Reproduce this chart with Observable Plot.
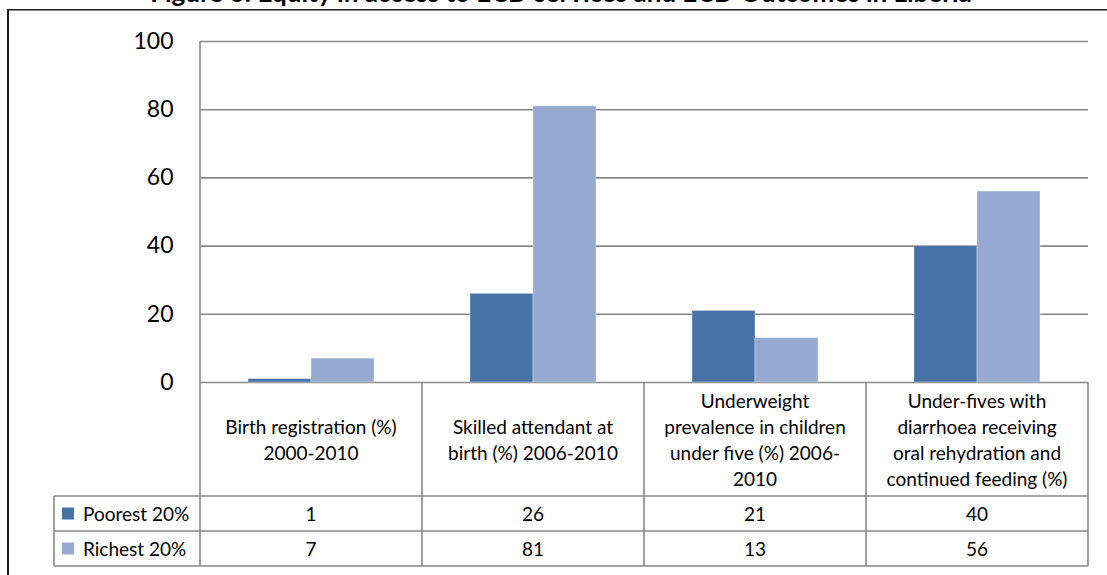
<!DOCTYPE html>
<html>
<head>
<meta charset="utf-8">
<script src="https://cdn.jsdelivr.net/npm/d3@7"></script>
<script src="https://cdn.jsdelivr.net/npm/@observablehq/plot@0.6"></script>
<style>
  html, body { margin: 0; padding: 0; background: #fff; }
  #wrap { position: relative; width: 1107px; height: 575px; overflow: hidden; background: #fff; }
  #title {
    position: absolute; left: 0; top: -21px; width: 1122px; text-align: center;
    font-family: Lato, sans-serif; font-weight: bold; font-size: 26px; line-height: 26px; color: #000;
    white-space: nowrap;
  }
  #frame {
    position: absolute; left: 7px; top: 9px; width: 1200px; height: 700px;
    border-left: 2px solid #1e1e1e; border-top: 1px solid #1e1e1e;
    box-shadow: inset 0 1px 0 #8f8f8f;
  }
  #chart { position: absolute; left: 0; top: 0; }
</style>
</head>
<body>
<div id="wrap">
  <div id="title">Figure 6: Equity in access to ECD services and ECD Outcomes in Liberia</div>
  <div id="frame"></div>
  <div id="chart"></div>
</div>
<script>
// Indicators (one group of bars each) and their wrapped labels for the data table
const categories = [
  "Birth registration (%) 2000-2010",
  "Skilled attendant at birth (%) 2006-2010",
  "Underweight prevalence in children under five (%) 2006-2010",
  "Under-fives with diarrhoea receiving oral rehydration and continued feeding (%)"
];
const categoryLines = [
  ["Birth registration (%)", "2000-2010"],
  ["Skilled attendant at", "birth (%) 2006-2010"],
  ["Underweight", "prevalence in children", "under five (%) 2006-", "2010"],
  ["Under-fives with", "diarrhoea receiving", "oral rehydration and", "continued feeding (%)"]
];

// Wealth quintile series
const seriesNames = ["Poorest 20%", "Richest 20%"];
const poorest = [1, 26, 21, 40];
const richest = [7, 81, 13, 56];
const seriesColors = ["#4672a7", "#95a9d1"];

// Value axis ticks
const yTicks = [0, 20, 40, 60, 80, 100];

const seriesValues = [poorest, richest];
const rows = seriesNames.flatMap((s, si) =>
  categories.map((c, ci) => ({series: s, category: c, value: seriesValues[si][ci]}))
);

const gridColor = "#888888";
const fontFamily = "Lato, 'Open Sans', sans-serif";

const chart = Plot.plot({
  width: 1107,
  height: 575,
  marginLeft: 200,
  marginRight: 19,
  marginTop: 41,
  marginBottom: 193,
  style: {fontFamily, fontSize: "23px", color: "#000", background: "transparent", overflow: "visible"},
  fx: {domain: categories, padding: 0, axis: null},
  x: {domain: seriesNames, paddingInner: 0, paddingOuter: 0.75, axis: null},
  y: {domain: [0, 100]},
  color: {domain: seriesNames, range: seriesColors},
  marks: [
    Plot.gridY(yTicks, {stroke: gridColor, strokeOpacity: 1, strokeWidth: 1.6}),
    Plot.barY(rows, {
      fx: "category", x: "series", y: "value", fill: "series",
      stroke: "#ffffff", strokeOpacity: 0.35, strokeWidth: 1
    }),
    Plot.axisY(yTicks, {tickSize: 0, tickPadding: 27, label: null, fontSize: 23, fill: "#000"})
  ]
});
document.getElementById("chart").appendChild(chart);

// Data table drawn underneath the bars, positioned from the chart's own scales
const fx = chart.scale("fx");
const y = chart.scale("y");
const bw = fx.bandwidth;
const colLeft = c => fx.apply(c);
const left = colLeft(categories[0]);
const right = colLeft(categories[categories.length - 1]) + bw;
const legendLeft = 54;
const headerHeight = 114;
const rowHeight = 35;
const top0 = y.apply(0);
const topMax = y.apply(100);
const headerBottom = top0 + headerHeight;
const rowTops = seriesNames.map((_, i) => headerBottom + i * rowHeight);
const tableBottom = headerBottom + seriesNames.length * rowHeight;

const svg = d3.select(chart);
const table = svg.append("g")
  .attr("font-family", fontFamily)
  .attr("font-size", 19)
  .attr("fill", "#000");

const lines = table.append("g").attr("stroke", gridColor).attr("stroke-width", 1.6);
// value axis line, continuing as the first column rule of the table
lines.append("line").attr("x1", left).attr("x2", left).attr("y1", topMax).attr("y2", tableBottom);
// column rules
categories.forEach(c => {
  const xr = colLeft(c) + bw;
  lines.append("line").attr("x1", xr).attr("x2", xr).attr("y1", top0).attr("y2", tableBottom);
});
// legend column rule
lines.append("line").attr("x1", legendLeft).attr("x2", legendLeft).attr("y1", headerBottom).attr("y2", tableBottom);
// row rules
[headerBottom, ...rowTops.slice(1), tableBottom].forEach(yy => {
  lines.append("line").attr("x1", legendLeft).attr("x2", right).attr("y1", yy).attr("y2", yy);
});

// header cells: wrapped category labels, centred in each column
const lineHeight = 26;
categories.forEach((c, ci) => {
  const cx = colLeft(c) + bw / 2;
  const cy = top0 + headerHeight / 2;
  const ls = categoryLines[ci];
  ls.forEach((t, li) => {
    table.append("text")
      .attr("x", cx)
      .attr("y", cy + (li - (ls.length - 1) / 2) * lineHeight)
      .attr("text-anchor", "middle")
      .attr("dominant-baseline", "central")
      .text(t);
  });
});

// series rows: legend key plus one value per column
seriesNames.forEach((s, si) => {
  const cy = rowTops[si] + rowHeight / 2;
  table.append("rect")
    .attr("x", 62).attr("y", cy - 6).attr("width", 12).attr("height", 12)
    .attr("fill", chart.scale("color").apply(s));
  table.append("text")
    .attr("x", 83).attr("y", cy)
    .attr("text-anchor", "start")
    .attr("dominant-baseline", "central")
    .text(s);
  categories.forEach((c, ci) => {
    table.append("text")
      .attr("x", colLeft(c) + bw / 2).attr("y", cy)
      .attr("text-anchor", "middle")
      .attr("dominant-baseline", "central")
      .text(seriesValues[si][ci]);
  });
});
</script>
</body>
</html>
